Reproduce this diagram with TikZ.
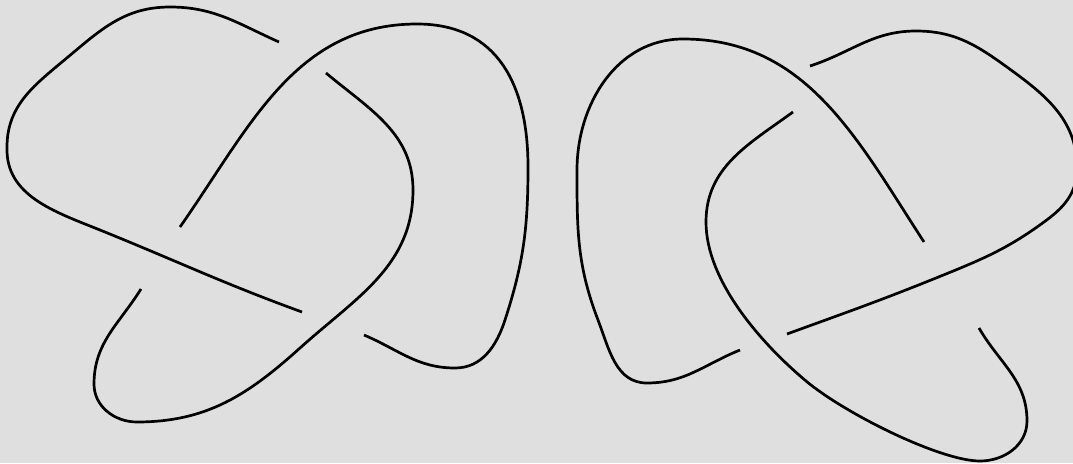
\documentclass[tikz,border=0pt]{standalone}
\usepackage{tikz}
\definecolor{bgcol}{RGB}{223, 223, 223}
\definecolor{linecol}{RGB}{0, 0, 0}
\tikzset{
  strand/.style = {draw=linecol, line width=2.7pt, line cap=butt},
}

\begin{document}
\begin{tikzpicture}[x=1pt, y=-1pt]

  %% ---------------- the canvas ----------------
  \useasboundingbox (0,0) rectangle (1073,463);
  \fill[bgcol] (0,0) rectangle (1073,463);
  \clip (0,0) rectangle (1073,463);

  %% ---------------- left trefoil ----------------
  \draw[strand] (279,42) to[out=156, in=0] (170,7)
                to[out=180, in=40] (68,57)
                to[out=220, in=90] (7,147)
                to[out=268, in=158] (100,230)
                to[out=-22, in=160] (302,312);
  \draw[strand] (326,73) to[out=-40, in=90] (413,190)
                to[out=270, in=42] (300,348)
                to[out=222, in=0] (137,422)
                to[out=180, in=270] (94,384)
                to[out=90, in=238] (141,289);
  \draw[strand] (180,227) to[out=55, in=180] (417,24)
                to[out=0, in=90, looseness=1.15] (528,167)
                to[out=270, in=72] (505,320)
                to[out=252, in=0] (455,368)
                to[out=180, in=-23] (364,335);

  %% ---------------- right trefoil ----------------
  \draw[strand] (810,66) to[out=18, in=180] (916,31)
                to[out=0, in=144] (1011,70)
                to[out=-36, in=90] (1077,168)
                to[out=270, in=37] (1048,219)
                to[out=217, in=22] (936,278)
                to[out=202, in=20] (787,334);
  \draw[strand] (924,242) to[out=123, in=0] (683,39)
                to[out=180, in=90] (577,170)
                to[out=270, in=111] (598,320)
                to[out=-69, in=180] (647,383)
                to[out=0, in=202] (740,350);
  \draw[strand] (793,112) to[out=216, in=90] (706,222)
                to[out=270, in=140, looseness=0.8] (806,381)
                to[out=-40, in=180, out distance=50pt, in distance=40pt]
                  (980,461)
                to[out=0, in=270] (1027,421)
                to[out=90, in=-60] (979,328);

\end{tikzpicture}
\end{document}
